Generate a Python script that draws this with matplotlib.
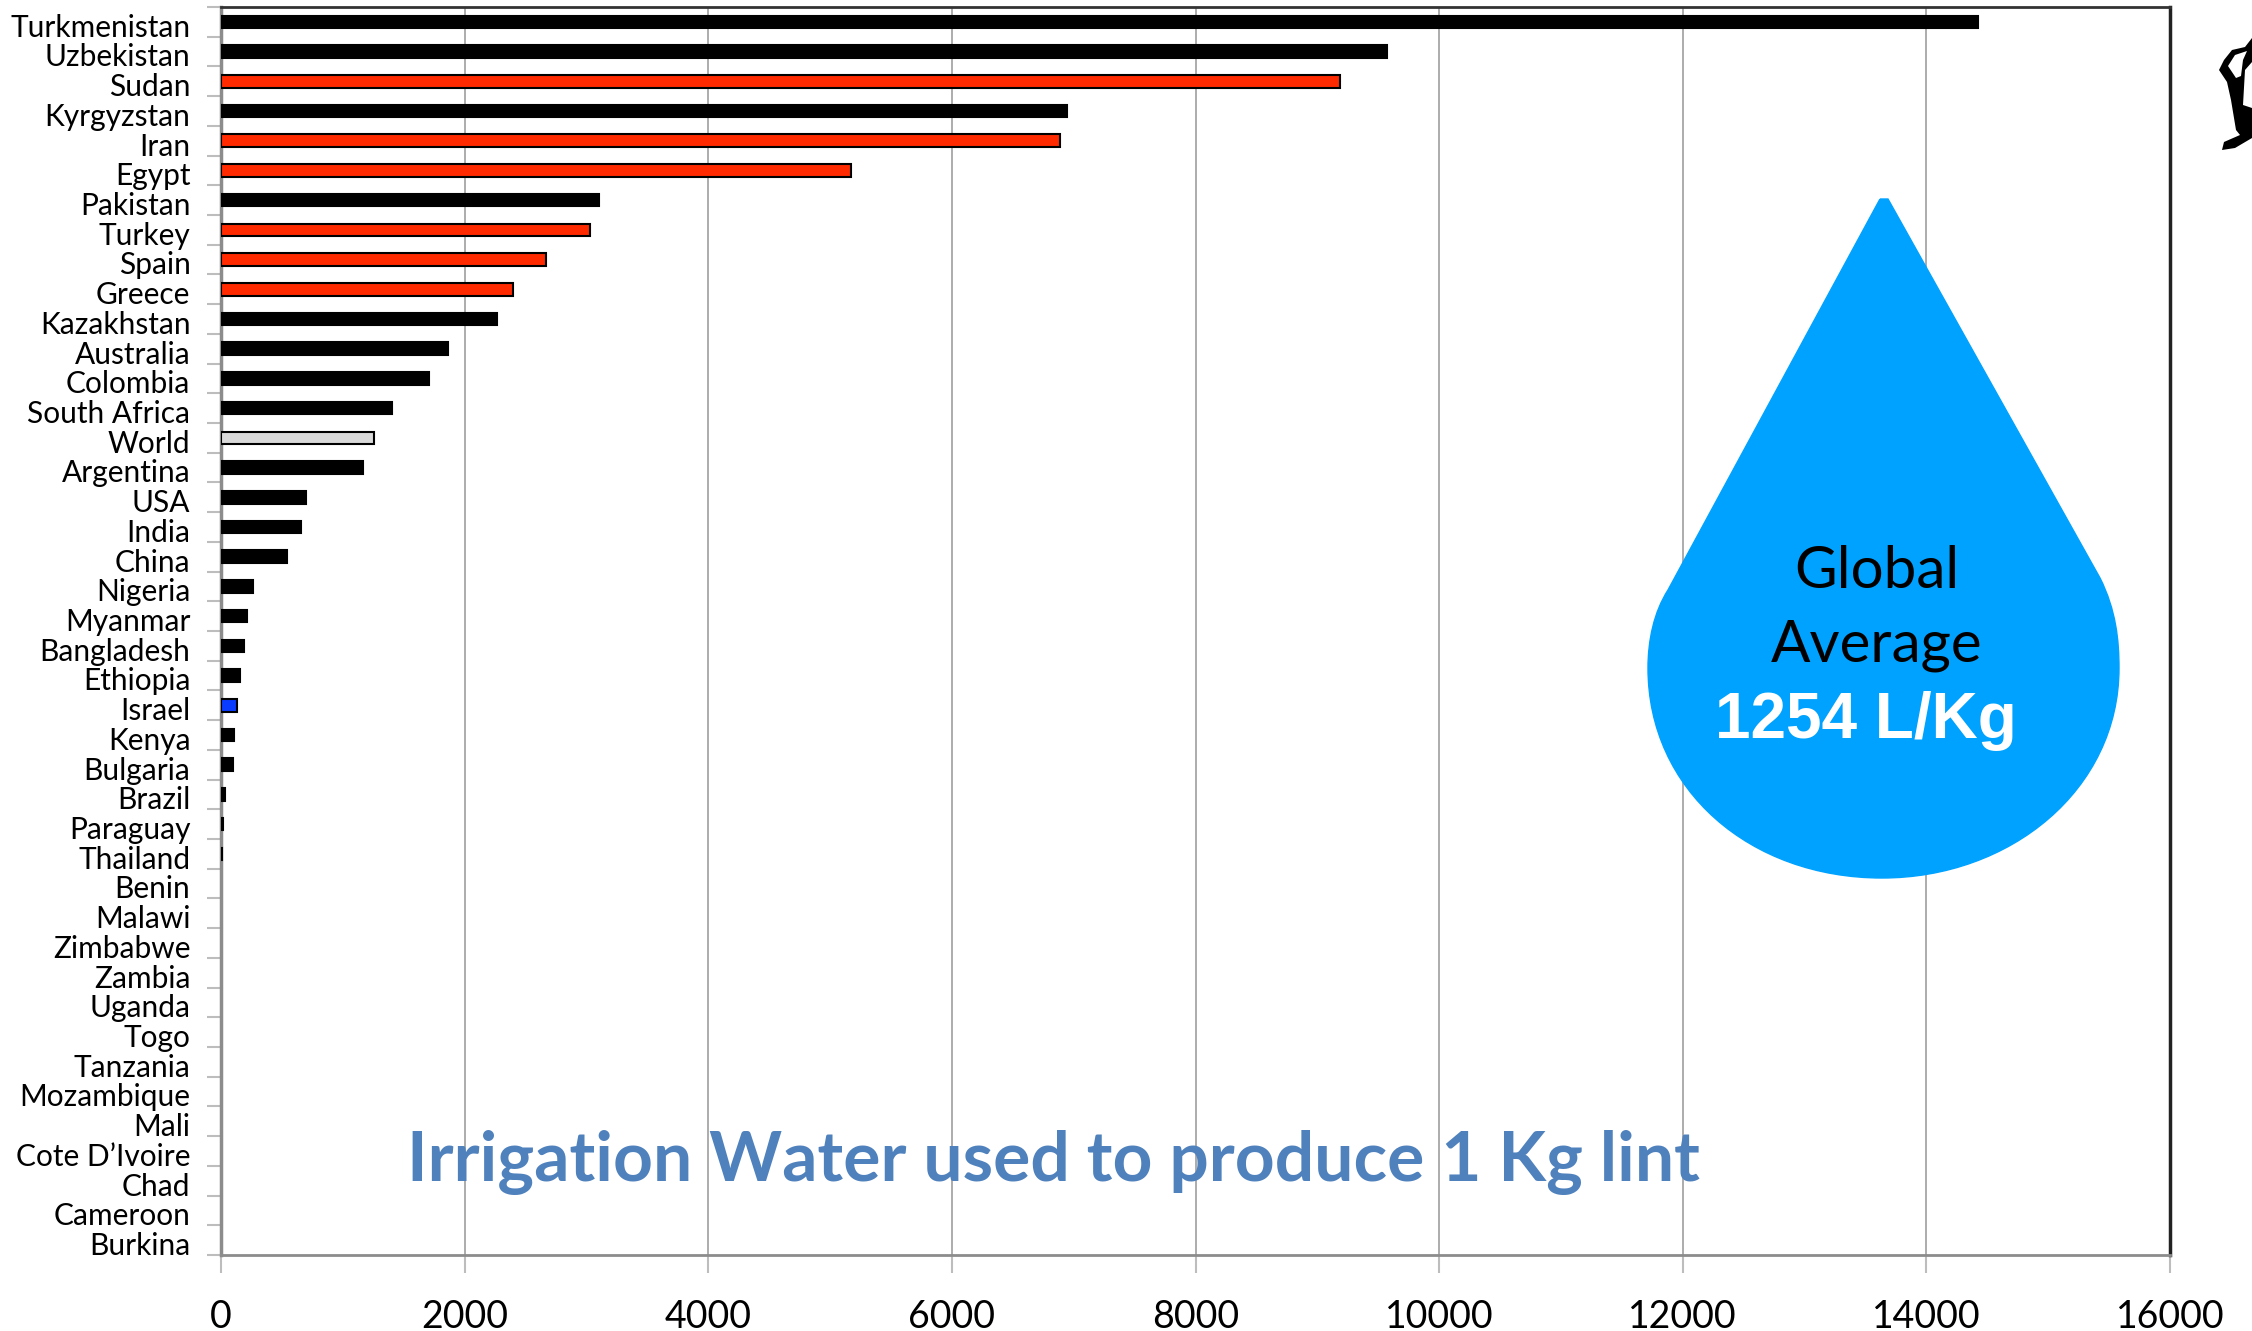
import matplotlib
matplotlib.use("Agg")
import matplotlib.pyplot as plt
from matplotlib.path import Path
from matplotlib.patches import PathPatch
from matplotlib.transforms import ScaledTranslation

countries = ["Turkmenistan","Uzbekistan","Sudan","Kyrgyzstan","Iran","Egypt","Pakistan","Turkey","Spain","Greece",
 "Kazakhstan","Australia","Colombia","South Africa","World","Argentina","USA","India","China","Nigeria","Myanmar",
 "Bangladesh","Ethiopia","Israel","Kenya","Bulgaria","Brazil","Paraguay","Thailand","Benin","Malawi","Zimbabwe",
 "Zambia","Uganda","Togo","Tanzania","Mozambique","Mali","Cote D\u2019Ivoire","Chad","Cameroon","Burkina"]
water = [14420,9575,9190,6945,6890,5175,3100,3030,2670,2395,2265,1865,1710,1405,1254,1165,695,660,540,260,210,190,
 160,130,110,95,30,20,10,0,0,0,0,0,0,0,0,0,0,0,0,0]
red_countries = ["Sudan","Iran","Egypt","Turkey","Spain","Greece"]
xticks = [0,2000,4000,6000,8000,10000,12000,14000,16000]
W,H = 2252,1331
plt.rcParams['font.family'] = ['Lato','DejaVu Sans']
fig = plt.figure(figsize=(W/100,H/100),dpi=100,facecolor='white')
L,R,T,B = 221,2170,7,1255
ax = fig.add_axes([L/W,1-B/H,(R-L)/W,(B-T)/H])
n = len(countries)
ys = list(range(n))
def col(c):
    if c in red_countries: return '#FF2A00'
    if c=="Israel": return '#0A3CFF'
    if c=="World": return '#D9D9D9'
    return 'black'
ax.barh(ys,water,height=0.42,color=[col(c) for c in countries],edgecolor='black',
        linewidth=[1.5 if v>0 else 0 for v in water],zorder=3)
ax.set_xlim(0,16000); ax.set_ylim(n-0.5,-0.5)
ax.set_xticks(xticks); ax.set_xticklabels([str(x) for x in xticks],fontsize=27)
ax.set_yticks(ys); ax.set_yticklabels(countries,fontsize=21.5,va='center')
ax.set_yticks([i-0.5 for i in range(n+1)],minor=True)
ax.tick_params(axis='y',which='major',length=0,pad=22)
ax.tick_params(axis='y',which='minor',length=10,width=1.5,color='#BDBDBD')
ax.tick_params(axis='x',length=13,width=1.5,color='#BDBDBD',pad=19)
ax.grid(axis='x',color='#A6A6A6',lw=1.3,zorder=0)
for s,c,w in [('left','#8C8C8C',2.5),('bottom','#8C8C8C',2),('top','#333333',2),('right','#222222',2.5)]:
    ax.spines[s].set_color(c); ax.spines[s].set_linewidth(w)
off = ScaledTranslation(0,-4.2/72,fig.dpi_scale_trans)
for lab in ax.get_yticklabels():
    lab.set_transform(lab.get_transform()+off)
ax.text(0.0955,0.074,"Irrigation Water used to produce 1 Kg lint",transform=ax.transAxes,color='#4F81BD',
        fontsize=50,fontweight='bold',ha='left',va='center',zorder=6)

# decorative droplet and logo fragment, in figure pixels
def fx(x,y): return (x/W,1-y/H)
verts=[(1880,199),(1888,199),(2100,578),
       (2116,610),(2119,640),(2119,668),
       (2119,790),(2010,878),(1882,878),
       (1750,878),(1648,790),(1648,668),
       (1648,640),(1654,612),(1668,590),(1880,199)]
codes=[Path.MOVETO,Path.LINETO,Path.LINETO]+[Path.CURVE4]*12+[Path.LINETO]
fig.add_artist(PathPatch(Path([fx(*v) for v in verts],codes),transform=fig.transFigure,facecolor='#00A2FF',edgecolor='#00A2FF',lw=1,zorder=5))
fig.text(1877/W,1-571/H,"Global",fontsize=42,ha='center',va='center',color='black',zorder=7)
fig.text(1877/W,1-646/H,"Average",fontsize=42,ha='center',va='center',color='black',zorder=7)
fig.text(1866/W,1-721/H,"1254 L/Kg",fontsize=46,fontweight='bold',family=['Liberation Sans'],ha='center',va='center',color='white',zorder=7)
logo=[(2252,38),(2245,47),(2232,50),(2224,60),(2219,70),(2227,82),(2231,100),(2236,130),(2240,135),(2224,142),(2222,150),(2235,148),(2252,138)]
fig.add_artist(PathPatch(Path([fx(*v) for v in logo],[Path.MOVETO]+[Path.LINETO]*(len(logo)-1)),transform=fig.transFigure,facecolor='black',edgecolor='none'))
for hole in ([(2228,66),(2235,55),(2247,51),(2243,60),(2241,76),(2236,78)],[(2252,62),(2245,70),(2243,105),(2252,108)]):
    fig.add_artist(PathPatch(Path([fx(*v) for v in hole],[Path.MOVETO]+[Path.LINETO]*(len(hole)-1)),transform=fig.transFigure,facecolor='white',edgecolor='none'))
fig.savefig("out.png",dpi=100,facecolor='white')
